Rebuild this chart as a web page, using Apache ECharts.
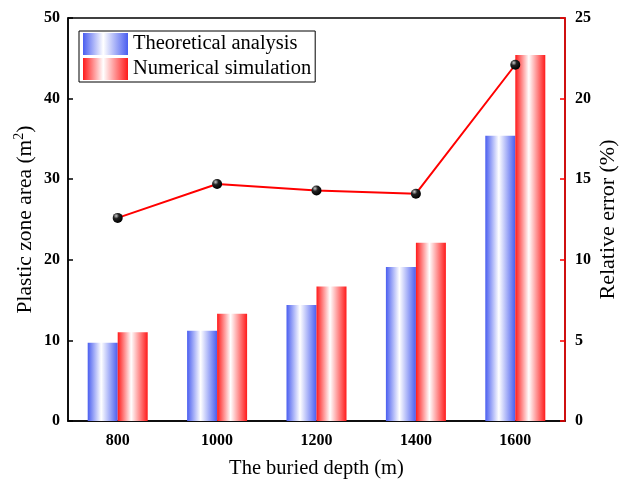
<!DOCTYPE html>
<html>
<head>
<meta charset="utf-8">
<script src="https://cdn.jsdelivr.net/npm/echarts@6/dist/echarts.min.js"></script>
<style>
html,body{margin:0;padding:0;background:#fff;}
#chart{width:624px;height:480px;}
</style>
</head>
<body>
<div id="chart"></div>
<script>
var depths = ['800', '1000', '1200', '1400', '1600'];
var theoretical = [9.7, 11.2, 14.4, 19.1, 35.4];
var numerical = [11.0, 13.3, 16.7, 22.1, 45.4];
var relError = [12.6, 14.7, 14.3, 14.1, 22.1];

var font = 'Liberation Serif, Times New Roman, serif';

function barGrad(c) {
	return new echarts.graphic.LinearGradient(0, 0, 1, 0, [
		{ offset: 0, color: c },
		{ offset: 0.45, color: '#ffffff' },
		{ offset: 1, color: c }
	]);
}

var myChart = echarts.init(document.getElementById('chart'));
var option = {
	animation: false,
	grid: {
		left: 68, right: 59, top: 18, bottom: 59,
		outerBoundsMode: 'none',
		show: true, borderColor: '#000', borderWidth: 1.5
	},
	legend: {
		data: ['Theoretical analysis', 'Numerical simulation'],
		orient: 'vertical',
		left: 79, top: 31,
		itemWidth: 45, itemHeight: 22, itemGap: 3,
		padding: [2, 4, 2, 4],
		borderColor: '#000', borderWidth: 1,
		icon: 'rect',
		textStyle: { fontFamily: font, fontSize: 20.5, color: '#000' }
	},
	xAxis: {
		type: 'category',
		data: depths,
		name: 'The buried depth (m)',
		nameLocation: 'middle',
		nameGap: 37,
		nameMoveOverlap: false,
		nameTextStyle: { fontFamily: font, fontSize: 20.5, color: '#000' },
		axisLine: { lineStyle: { color: '#000', width: 1.5 } },
		axisTick: { alignWithLabel: true, inside: true, length: 5, lineStyle: { color: '#000', width: 1.5 } },
		axisLabel: { fontFamily: font, fontSize: 16, fontWeight: 'bold', color: '#000', margin: 12 }
	},
	yAxis: [
		{
			type: 'value', min: 0, max: 50, interval: 10,
			name: '{a|Plastic zone area (m}{s|2}{a|)}',
			nameLocation: 'middle', nameGap: 30,
			nameMoveOverlap: false,
			nameTextStyle: {
				rich: {
					a: { fontFamily: font, fontSize: 21.5, color: '#000' },
					s: { fontFamily: font, fontSize: 14, color: '#000', verticalAlign: 'top', padding: [0, 0, 12, 0] }
				}
			},
			axisLine: { show: true, lineStyle: { color: '#000', width: 1.5 } },
			axisTick: { show: true, inside: true, length: 5, lineStyle: { color: '#000', width: 1.5 } },
			axisLabel: { fontFamily: font, fontSize: 16, fontWeight: 'bold', color: '#000', margin: 8 },
			splitLine: { show: false }
		},
		{
			type: 'value', min: 0, max: 25, interval: 5,
			name: 'Relative error (%)',
			nameLocation: 'middle', nameGap: 32, nameRotate: 90,
			nameMoveOverlap: false,
			nameTextStyle: { fontFamily: font, fontSize: 22, color: '#000' },
			axisLine: { show: true, lineStyle: { color: '#ff0000', width: 1.5 } },
			axisTick: { show: true, inside: true, length: 5, lineStyle: { color: '#ff0000', width: 1.5 } },
			axisLabel: { fontFamily: font, fontSize: 16, fontWeight: 'bold', color: '#000', margin: 10 },
			splitLine: { show: false }
		}
	],
	series: [
		{
			name: 'Theoretical analysis',
			type: 'bar',
			data: theoretical,
			barWidth: 30,
			barGap: '0%',
			itemStyle: { color: barGrad('#4a5ef0') }
		},
		{
			name: 'Numerical simulation',
			type: 'bar',
			data: numerical,
			barWidth: 30,
			itemStyle: { color: barGrad('#ff1a1a') }
		},
		{
			name: 'Relative error',
			type: 'line',
			yAxisIndex: 1,
			data: relError,
			symbol: 'circle',
			symbolSize: 10,
			z: 5,
			lineStyle: { color: '#ff0000', width: 2 },
			itemStyle: {
				color: new echarts.graphic.RadialGradient(0.35, 0.3, 0.7, [
					{ offset: 0, color: '#cccccc' },
					{ offset: 0.4, color: '#222222' },
					{ offset: 1, color: '#000000' }
				]),
				borderWidth: 0
			}
		}
	]
};
myChart.setOption(option);
</script>
</body>
</html>
